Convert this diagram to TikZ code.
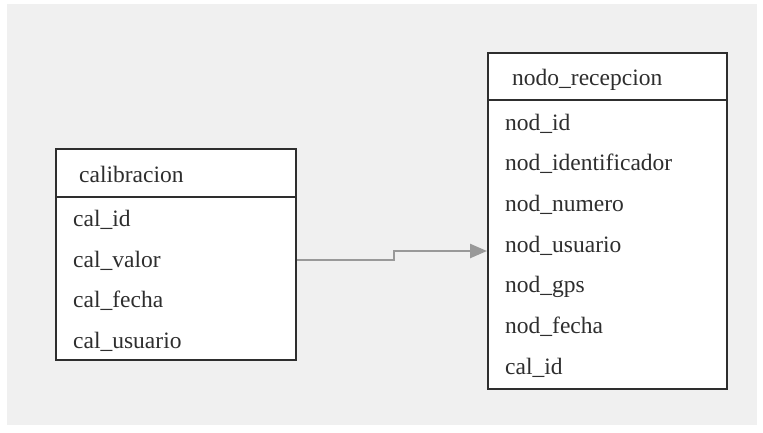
\documentclass[tikz,border=0pt]{standalone}
\usepackage{fontspec}
\setmainfont{Liberation Serif}
\usetikzlibrary{arrows.meta}
\definecolor{canvas}{HTML}{F0F0F0}
\definecolor{ink}{HTML}{2E2E2E}
\definecolor{linkgray}{HTML}{999999}
\tikzset{
  tbl/.style={draw=ink, line width=2pt, fill=white, rectangle, inner sep=0pt, anchor=north west},
  field/.style={anchor=base west, inner sep=0pt, text=ink, font=\fontsize{23.5}{25}\selectfont},
  title/.style={field},
  link/.style={draw=linkgray, line width=2.5pt, -{Triangle[length=17pt,width=14pt]}}
}
\begin{document}
\begin{tikzpicture}[x=1pt,y=-1pt]
  \useasboundingbox (0,0) rectangle (763,432);
  \fill[white] (0,0) rectangle (763,432);
  \fill[canvas] (7,4) rectangle (757,425);

  % table calibracion
  \node[tbl, minimum width=240pt, minimum height=48pt] (calhead) at (55,148) {};
  \node[tbl, minimum width=240pt, minimum height=163pt] (calbody) at (55,196) {};
  \node[title] (caltitle) at (79,182) {calibracion};
  \node[field] (calid) at (73,226) {cal\_id};
  \node[field] (calvalor) at (73,267) {cal\_valor};
  \node[field] (calfecha) at (73,307.5) {cal\_fecha};
  \node[field] (calusuario) at (73,348) {cal\_usuario};

  % table nodo_recepcion
  \node[tbl, minimum width=239pt, minimum height=47pt] (nodhead) at (487,52) {};
  \node[tbl, minimum width=239pt, minimum height=289pt] (nodbody) at (487,99) {};
  \node[title] (nodtitle) at (512,85) {nodo\_recepcion};
  \node[field] (nodid) at (505,130) {nod\_id};
  \node[field] (nodident) at (505,170.5) {nod\_identificador};
  \node[field] (nodnumero) at (505,211) {nod\_numero};
  \node[field] (nodusuario) at (505,252) {nod\_usuario};
  \node[field] (nodgps) at (505,292) {nod\_gps};
  \node[field] (nodfecha) at (505,333) {nod\_fecha};
  \node[field] (nodcalid) at (505,374) {cal\_id};

  % relation: calibracion -> nodo_recepcion
  \coordinate (src) at (calbody.east |- 0,260);
  \coordinate (dst) at (nodbody.west |- 0,251);
  \draw[link] (src) -- (394,260) -- (394,251) -- (dst);
\end{tikzpicture}
\end{document}
